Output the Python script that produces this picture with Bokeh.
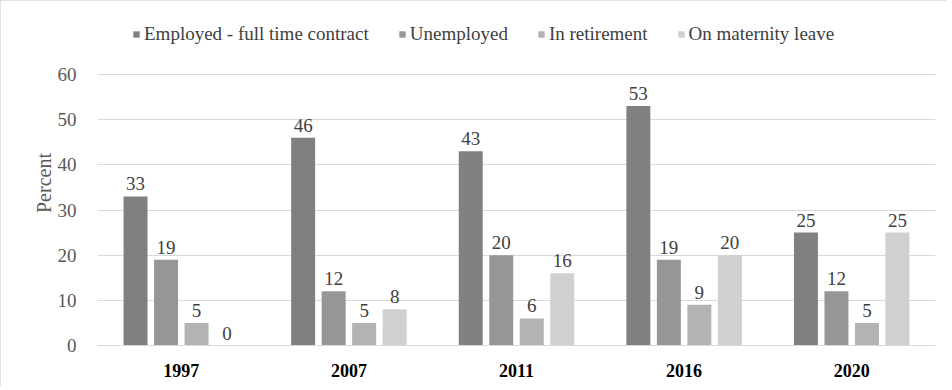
from bokeh.plotting import figure
from bokeh.models import ColumnDataSource, FactorRange, Legend, LegendItem, LabelSet, FixedTicker, Range1d
from bokeh.transform import dodge
from bokeh.core.properties import value
from bokeh.embed import file_html
from bokeh.resources import INLINE

years = ["1997", "2007", "2011", "2016", "2020"]
employed = [33, 46, 43, 53, 25]
unemployed = [19, 12, 20, 19, 12]
retirement = [5, 5, 6, 9, 5]
maternity = [0, 8, 16, 20, 25]
series_names = ["Employed - full time contract", "Unemployed", "In retirement", "On maternity leave"]
colors = ["#808080", "#969696", "#b3b3b3", "#d0d0d0"]
y_ticks = [0, 10, 20, 30, 40, 50, 60]
y_title = "Percent"

src = ColumnDataSource(dict(years=years, employed=employed, unemployed=unemployed,
                            retirement=retirement, maternity=maternity))

FONT = "Liberation Serif"
p = figure(x_range=FactorRange(*years, range_padding=0), y_range=Range1d(0, 71.956),
           width=946, height=386, output_backend="svg", toolbar_location=None,
           min_border_left=97, min_border_right=11, min_border_top=20, min_border_bottom=41)
p.outline_line_color = None
p.styles = {"outline": "1px solid #d9d9d9", "outline-offset": "-1px"}

cols = ["employed", "unemployed", "retirement", "maternity"]
offsets = [-0.273, -0.091, 0.091, 0.273]
items = []
for c, off, col, name in zip(cols, offsets, colors, series_names):
    r = p.vbar(x=dodge("years", off, range=p.x_range), top=c, width=0.143, source=src,
               fill_color=col, line_color=None)
    items.append(LegendItem(label=name, renderers=[r]))
    lbl = LabelSet(x=dodge("years", off, range=p.x_range), y=c, text=c, source=src,
                   text_align="center", text_baseline="bottom", y_offset=6,
                   text_font=value(FONT), text_font_size="19px", text_color="#404040")
    p.add_layout(lbl)

legend = Legend(items=items, orientation="horizontal", location=(35, 300),
                label_text_font=FONT, label_text_font_size="19px", label_text_color="#404040",
                glyph_width=8, glyph_height=8, spacing=29, label_standoff=4,
                border_line_color=None, background_fill_alpha=0, margin=0, padding=0)
p.add_layout(legend)

p.yaxis.ticker = FixedTicker(ticks=y_ticks)
p.yaxis.axis_line_color = None
p.yaxis.major_tick_line_color = None
p.yaxis.minor_tick_line_color = None
p.yaxis.major_label_text_font = FONT
p.yaxis.major_label_text_font_size = "19px"
p.yaxis.major_label_text_color = "#595959"
p.yaxis.major_label_standoff = 15
p.yaxis.axis_label = y_title
p.yaxis.axis_label_text_font = FONT
p.yaxis.axis_label_text_font_size = "20px"
p.yaxis.axis_label_text_font_style = "normal"
p.yaxis.axis_label_text_color = "#595959"
p.yaxis.axis_label_standoff = 0

p.xaxis.axis_line_color = "#d9d9d9"
p.xaxis.major_tick_line_color = None
p.xaxis.minor_tick_line_color = None
p.xaxis.major_label_text_font = FONT
p.xaxis.major_label_text_font_size = "18px"
p.xaxis.major_label_text_font_style = "bold"
p.xaxis.major_label_text_color = "#000000"
p.xaxis.major_label_standoff = 12

p.xgrid.grid_line_color = None
p.ygrid.grid_line_color = "#d9d9d9"

open("out.html", "w").write(file_html(p, INLINE))
